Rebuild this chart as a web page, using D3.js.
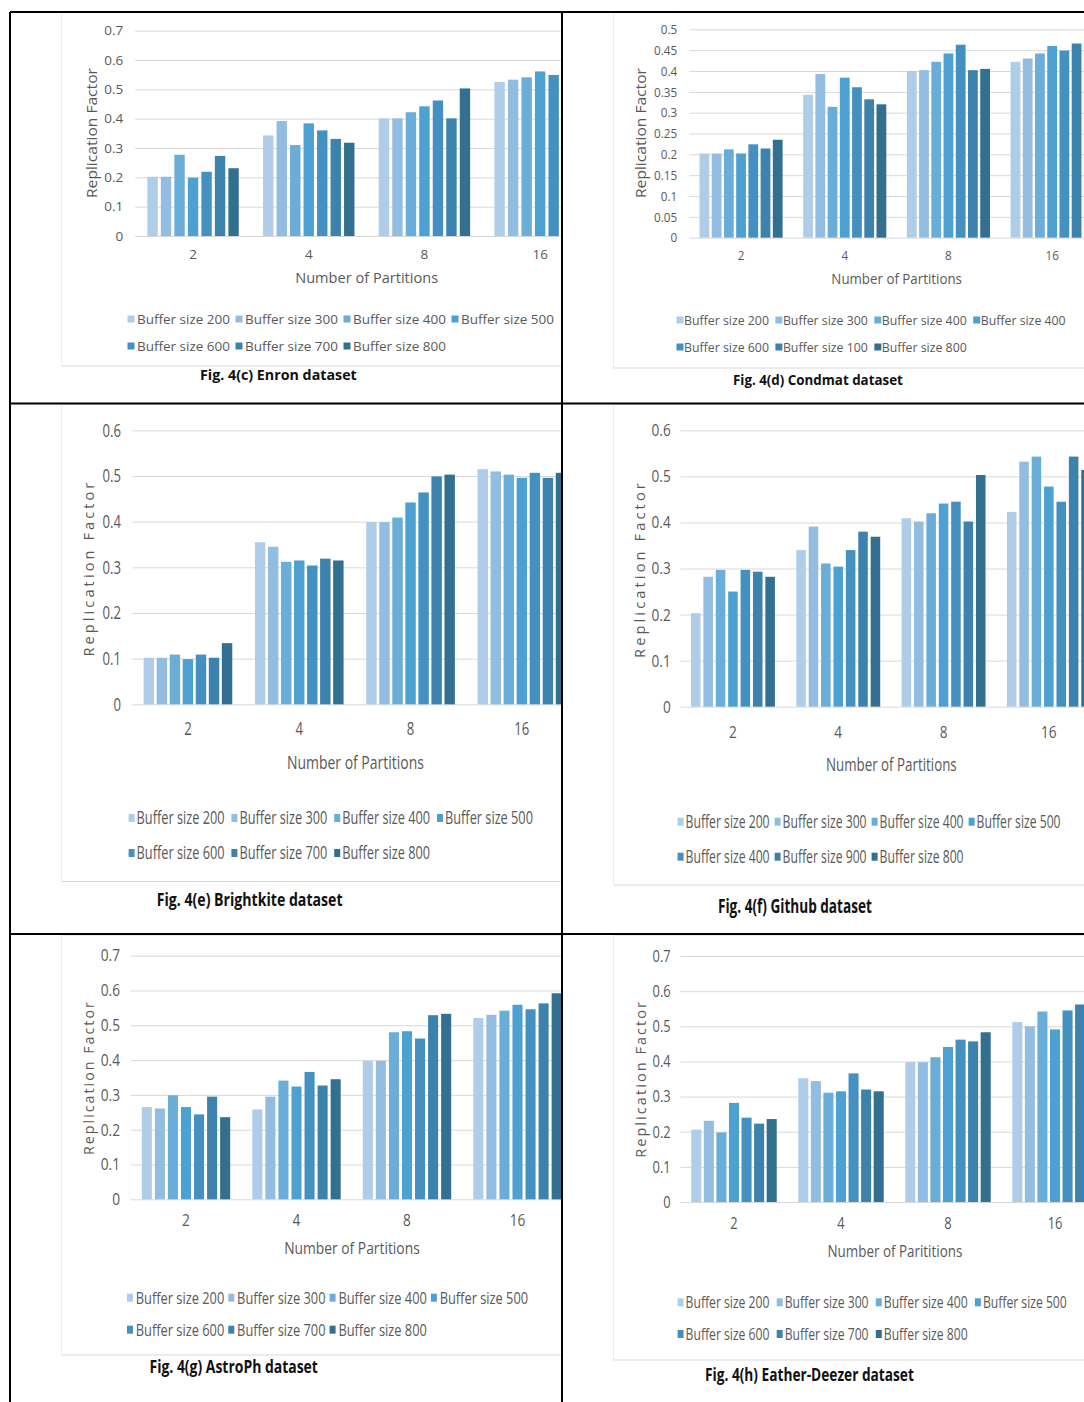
<!DOCTYPE html>
<html><head><meta charset="utf-8">
<script src="https://cdn.jsdelivr.net/npm/d3@7"></script>
<style>body{margin:0;background:#fff}</style></head>
<body><svg id="chart" width="1084" height="1402"></svg>
<script>
// ---------------- data ----------------
const categories = ["2", "4", "8", "16"];
const legendStd = ["Buffer size 200","Buffer size 300","Buffer size 400","Buffer size 500","Buffer size 600","Buffer size 700","Buffer size 800"];
const legendCondmat = ["Buffer size 200","Buffer size 300","Buffer size 400","Buffer size 400","Buffer size 600","Buffer size 100","Buffer size 800"];
const legendGithub = ["Buffer size 200","Buffer size 300","Buffer size 400","Buffer size 500","Buffer size 400","Buffer size 900","Buffer size 800"];
const ticks07 = [0,0.1,0.2,0.3,0.4,0.5,0.6,0.7];
const ticks06 = [0,0.1,0.2,0.3,0.4,0.5,0.6];
const ticks05 = [0,0.05,0.1,0.15,0.2,0.25,0.3,0.35,0.4,0.45,0.5];
// values: one row per category (2,4,8,16), seven buffer sizes each
const enronValues = [
  [0.202,0.202,0.277,0.199,0.219,0.273,0.231],
  [0.343,0.392,0.310,0.384,0.360,0.331,0.318],
  [0.401,0.401,0.422,0.442,0.462,0.401,0.503],
  [0.525,0.533,0.541,0.561,0.549,0.55,0.57]
];
const condmatValues = [
  [0.202,0.202,0.212,0.202,0.224,0.214,0.235],
  [0.343,0.393,0.314,0.384,0.361,0.332,0.320],
  [0.400,0.402,0.422,0.442,0.463,0.402,0.405],
  [0.422,0.430,0.442,0.460,0.449,0.466,0.47]
];
const brightkiteValues = [
  [0.102,0.102,0.109,0.099,0.109,0.102,0.134],
  [0.355,0.345,0.312,0.315,0.304,0.319,0.315],
  [0.399,0.399,0.409,0.442,0.464,0.499,0.503],
  [0.515,0.510,0.503,0.496,0.507,0.496,0.507]
];
const githubValues = [
  [0.203,0.282,0.297,0.250,0.297,0.293,0.282],
  [0.340,0.391,0.311,0.304,0.340,0.380,0.369],
  [0.409,0.402,0.420,0.441,0.445,0.402,0.503],
  [0.423,0.532,0.543,0.478,0.445,0.543,0.514]
];
const astrophValues = [
  [0.265,0.261,0.299,0.265,0.244,0.295,0.236],
  [0.258,0.295,0.341,0.324,0.366,0.327,0.345],
  [0.398,0.398,0.480,0.483,0.462,0.529,0.533],
  [0.521,0.530,0.542,0.559,0.546,0.563,0.592]
];
const deezerValues = [
  [0.206,0.231,0.198,0.282,0.240,0.223,0.236],
  [0.352,0.344,0.311,0.315,0.366,0.320,0.315],
  [0.398,0.398,0.412,0.441,0.462,0.457,0.483],
  [0.512,0.500,0.542,0.491,0.545,0.562,0.58]
];
const colors = ["#afcde9","#93bde0","#6badd9","#4da0d2","#4490c0","#3c82ac","#336f8f"];

// ---------------- layout ----------------
const FONT = "'Open Sans','Noto Sans',sans-serif";
const GRAY = "#595959";
const panels = [
  {values: enronValues, legend: legendStd, ticks: ticks07, caption: "Fig. 4(c) Enron dataset", xTitle: "Number  of Partitions",
   frame:[61.5,12,500.5,354], clipR:561, left:135.2, step:115.7, pad:0.183, inner:0.23, y0:236, yTop:30.67, yMax:0.7,
   tick:{size:13.5, sx:1, yOff:12, xBase:22.7}, yT:{cx:91.7, cy:133, len:130, size:14, spacing:0},
   xT:{cx:366.7, base:282.5, len:143, size:14}, lg:{x:127.5, pitch:108, rows:[319,346], sw:7, sh:7, tx:9.5, len:93, size:13},
   cap:{x:200, base:380, len:157, size:15}},
  {values: condmatValues, legend: legendCondmat, ticks: ticks05, caption: "Fig. 4(d)  Condmat dataset", xTitle: "Number  of Partitions",
   frame:[613.5,12,480,356], clipR:1084, left:689.2, step:103.7, pad:0.175, inner:0.2, y0:237.67, yTop:29.33, yMax:0.5,
   tick:{size:13, sx:0.9, yOff:12, xBase:22.7}, yT:{cx:640.7, cy:133, len:130, size:14, spacing:0},
   xT:{cx:896.7, base:284, len:130.7, size:14}, lg:{x:676.5, pitch:98.9, rows:[320,347], sw:7, sh:7, tx:7.5, len:85, size:13},
   cap:{x:733, base:385, len:170, size:15}},
  {values: brightkiteValues, legend: legendStd, ticks: ticks06, caption: "Fig. 4(e)  Brightkite dataset", xTitle: "Number  of Partitions",
   frame:[61.5,404,500,477.5], clipR:561, left:132.3, step:111.3, pad:0.18, inner:0.2, y0:704.33, yTop:430.33, yMax:0.6,
   tick:{size:18, sx:0.73, yOff:11.3, xBase:30.2}, yT:{cx:89.3, cy:568, len:177, size:14, spacing:3},
   xT:{cx:355.4, base:768.5, len:137, size:18}, lg:{x:128.6, pitch:102.8, rows:[818,853], sw:6, sh:8, tx:8, len:88, size:18},
   cap:{x:156.7, base:906, len:186, size:18}},
  {values: githubValues, legend: legendGithub, ticks: ticks06, caption: "Fig. 4(f)  Github dataset", xTitle: "Number  of Partitions",
   frame:[613.5,404,480,481], clipR:1084, left:680.3, step:105.3, pad:0.176, inner:0.23, y0:706.67, yTop:430.33, yMax:0.6,
   tick:{size:17, sx:0.8, yOff:9.6, xBase:31.5}, yT:{cx:640, cy:569, len:178, size:14, spacing:3},
   xT:{cx:891.4, base:771, len:130.7, size:18}, lg:{x:677.6, pitch:97, rows:[821.7,856.7], sw:6, sh:8, tx:8, len:84, size:18},
   cap:{x:718, base:913, len:154, size:20}},
  {values: astrophValues, legend: legendStd, ticks: ticks07, caption: "Fig. 4(g)  AstroPh dataset", xTitle: "Number  of Partitions",
   frame:[61.5,935,500,420], clipR:561, left:130.75, step:110.5, pad:0.173, inner:0.23, y0:1199.33, yTop:955.67, yMax:0.7,
   tick:{size:16.5, sx:0.83, yOff:10.75, xBase:26.7}, yT:{cx:89.3, cy:1077.5, len:155, size:14, spacing:2},
   xT:{cx:352, base:1253.5, len:135.7, size:17}, lg:{x:127, pitch:101.3, rows:[1297.7,1329.7], sw:6, sh:8, tx:8.8, len:88.5, size:17},
   cap:{x:149.5, base:1373, len:168.5, size:18}},
  {values: deezerValues, legend: legendStd, ticks: ticks07, caption: "Fig. 4(h)  Eather-Deezer dataset", xTitle: "Number  of Parititions",
   frame:[613.5,935,480,425], clipR:1084, left:680.5, step:107, pad:0.178, inner:0.2, y0:1202, yTop:956, yMax:0.7,
   tick:{size:16.5, sx:0.78, yOff:9.8, xBase:27}, yT:{cx:640.7, cy:1078.8, len:158, size:14, spacing:2},
   xT:{cx:895, base:1256.5, len:135, size:17}, lg:{x:677.6, pitch:99.1, rows:[1302.3,1334], sw:6, sh:8, tx:8, len:84, size:17},
   cap:{x:705, base:1381, len:209, size:18}}
];

const svg = d3.select("#chart");
svg.append("rect").attr("width",1084).attr("height",1402).attr("fill","#fff");
const defs = svg.append("defs");
const fmt = d => String(+d.toFixed(2));

// place a text so that its rendered width equals `len` (horizontal scale only)
function fitText(parent, str, x, y, len, o) {
  const t = parent.append("text").text(str).attr("x", 0).attr("y", 0)
    .attr("font-family", FONT).attr("font-size", o.size).attr("fill", o.fill || GRAY);
  if (o.bold) t.attr("font-weight", "bold");
  if (o.spacing) t.attr("letter-spacing", o.spacing);
  if (o.dy) t.attr("dy", o.dy);
  const w = t.node().getComputedTextLength();
  const s = len / w;
  const ax = o.anchor === "middle" ? -len / 2 : 0;
  const rot = o.rotate ? ` rotate(${o.rotate})` : "";
  t.attr("x", ax / s).attr("transform", `translate(${x},${y})${rot} scale(${s},1)`);
  return t;
}

panels.forEach((p, pi) => {
  const [fx, fy, fw, fh] = p.frame;
  defs.append("clipPath").attr("id","clip"+pi).append("rect")
    .attr("x", fx).attr("y", fy).attr("width", p.clipR - fx).attr("height", fh + 40);
  const g = svg.append("g").attr("clip-path", `url(#clip${pi})`);
  g.append("rect").attr("x", fx).attr("y", fy).attr("width", fw).attr("height", fh)
    .attr("fill","#fff").attr("stroke","#d9d9d9").attr("stroke-width",1);

  const x0 = d3.scaleBand().domain(categories).range([p.left, p.left + 4 * p.step])
    .paddingInner(p.pad).paddingOuter(p.pad / 2);
  const x1 = d3.scaleBand().domain(d3.range(7)).range([0, x0.bandwidth()])
    .paddingInner(p.inner).paddingOuter(p.inner / 2);
  const y = d3.scaleLinear().domain([0, p.yMax]).range([p.y0, p.yTop]);

  // y axis + gridlines
  const ya = g.append("g").attr("transform", `translate(${p.left},0)`)
    .call(d3.axisLeft(y).tickValues(p.ticks).tickFormat(fmt).tickSize(-(p.clipR - p.left)).tickPadding(0));
  ya.select(".domain").remove();
  ya.selectAll(".tick line").attr("stroke","#d9d9d9").attr("stroke-width",1);
  ya.attr("font-family", FONT).attr("font-size", p.tick.size);
  ya.selectAll(".tick text").attr("fill", GRAY)
    .attr("x", -p.tick.yOff / p.tick.sx).attr("transform", `scale(${p.tick.sx},1)`);

  // x axis labels
  const xa = g.append("g").attr("transform", `translate(0,${p.y0})`)
    .call(d3.axisBottom(x0).tickSize(0));
  xa.select(".domain").remove();
  xa.attr("font-family", FONT).attr("font-size", p.tick.size);
  xa.selectAll(".tick text").attr("fill", GRAY).attr("dy", null).attr("y", p.tick.xBase)
    .attr("transform", `scale(${p.tick.sx},1)`);

  // bars
  const groups = g.append("g").selectAll("g").data(p.values).join("g")
    .attr("transform", (d, i) => `translate(${x0(categories[i])},0)`);
  groups.selectAll("rect").data(d => d.map((v, j) => ({v, j}))).join("rect")
    .attr("x", d => x1(d.j)).attr("width", x1.bandwidth())
    .attr("y", d => y(d.v)).attr("height", d => y(0) - y(d.v))
    .attr("fill", d => colors[d.j]);

  // y title (rotated)
  fitText(g, "Replication  Factor", p.yT.cx, p.yT.cy, p.yT.len,
    {size: p.yT.size, anchor: "middle", rotate: -90, dy: "0.35em", spacing: p.yT.spacing});

  // x title
  fitText(g, p.xTitle, p.xT.cx, p.xT.base, p.xT.len, {size: p.xT.size, anchor: "middle"});

  // legend
  const lg = g.append("g");
  p.legend.forEach((name, j) => {
    const col = j % 4, row = Math.floor(j / 4);
    const lx = p.lg.x + col * p.lg.pitch, ly = p.lg.rows[row];
    lg.append("rect").attr("x", lx).attr("y", ly - p.lg.sh / 2).attr("width", p.lg.sw).attr("height", p.lg.sh)
      .attr("fill", colors[j]);
    fitText(lg, name, lx + p.lg.tx, ly, p.lg.len, {size: p.lg.size, dy: "0.35em"});
  });

  // caption (outside clip)
  fitText(svg, p.caption, p.cap.x, p.cap.base, p.cap.len, {size: p.cap.size, bold: true, fill: "#111"});
});

// black frame lines
const frameLines = [[10,12,1084,12],[10,12,10,1402],[562,12,562,1402],[10,403.5,1084,403.5],[10,934,1084,934]];
svg.append("g").selectAll("line").data(frameLines).join("line")
  .attr("x1", d => d[0]).attr("y1", d => d[1]).attr("x2", d => d[2]).attr("y2", d => d[3])
  .attr("stroke","#000").attr("stroke-width",2);
</script></body></html>
